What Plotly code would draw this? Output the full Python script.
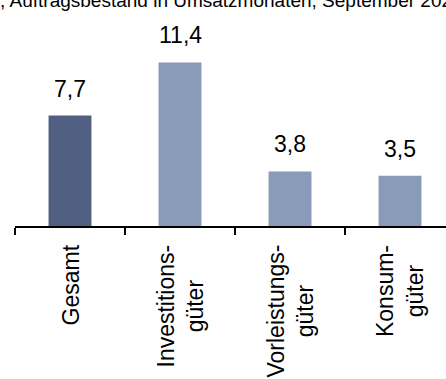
import plotly.graph_objects as go

categories = [["Gesamt"], ["Investitions-", "güter"], ["Vorleistungs-", "güter"], ["Konsum-", "güter"]]
values = [7.7, 11.4, 3.8, 3.5]
bar_colors = ["#515f82", "#8a9ab9", "#8a9ab9", "#8a9ab9"]
title_text = ", Auftragsbestand in Umsatzmonaten, September 2023"

FONT = "Liberation Sans, Arial, sans-serif"
xs = list(range(len(values)))

fig = go.Figure()
fig.add_trace(go.Bar(
    x=xs, y=values, width=0.39,
    marker=dict(color=bar_colors, line=dict(width=0)),
    hoverinfo="skip",
))

annotations = []
for x, v in zip(xs, values):
    annotations.append(dict(
        x=x, y=v, xref="x", yref="y", text=f"{v:.1f}".replace(".", ","),
        showarrow=False, yanchor="bottom", xanchor="center", yshift=12,
        font=dict(family=FONT, size=23, color="#000000"),
    ))
for x, lines in zip(xs, categories):
    annotations.append(dict(
        x=x, y=0, xref="x", yref="y", text="<br>".join(lines),
        showarrow=False, textangle=-90, align="center",
        yanchor="top", xanchor="center", yshift=-17,
        font=dict(family=FONT, size=23, color="#000000"),
    ))
annotations.append(dict(
    x=0, y=1, xref="paper", yref="paper", text=title_text,
    showarrow=False, xanchor="left", yanchor="bottom", xshift=-17, yshift=17,
    font=dict(family=FONT, size=19, color="#000000"),
))

fig.update_layout(
    width=446, height=379,
    margin=dict(l=15, r=0, t=30, b=153),
    paper_bgcolor="white", plot_bgcolor="white",
    showlegend=False,
    annotations=annotations,
    xaxis=dict(
        range=[-0.5, 3.418], showgrid=False, zeroline=False,
        showline=True, linecolor="#000000", linewidth=2,
        tickmode="array", tickvals=[-0.5, 0.5, 1.5, 2.5],
        ticks="outside", ticklen=7, tickwidth=2, tickcolor="#000000",
        showticklabels=False, fixedrange=True,
    ),
    yaxis=dict(
        range=[0, 13.66], visible=False, fixedrange=True,
    ),
)

fig.write_html("out.html", config={"displayModeBar": False})
